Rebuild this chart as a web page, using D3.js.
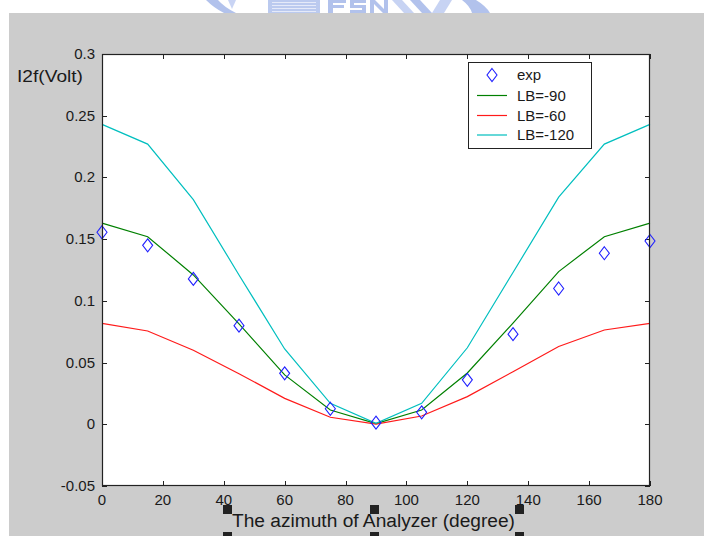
<!DOCTYPE html>
<html>
<head>
<meta charset="utf-8">
<script src="https://cdn.jsdelivr.net/npm/d3@7"></script>
<style>
  html, body { margin: 0; padding: 0; background: #ffffff; }
  svg { display: block; }
  text { font-family: "Liberation Sans", Arial, Helvetica, sans-serif; fill: #1a1a1a; }
</style>
</head>
<body>
<svg id="chart" width="704" height="536"></svg>
<script>
// ---- data ----
const angles = [0, 15, 30, 45, 60, 75, 90, 105, 120, 135, 150, 165, 180];
const expValues = [0.1556, 0.145, 0.1178, 0.0799, 0.0413, 0.0126, 0.0013, 0.0097, 0.036, 0.073, 0.110, 0.1386, 0.1485];
const lb90 = [0.163, 0.152, 0.121, 0.0813, 0.040, 0.0116, 0.0005, 0.0116, 0.0416, 0.082, 0.1237, 0.152, 0.163];
const lb60 = [0.0818, 0.0756, 0.060, 0.041, 0.021, 0.0057, 0.0002, 0.0067, 0.0224, 0.0426, 0.063, 0.0764, 0.0818];
const lb120 = [0.243, 0.227, 0.182, 0.121, 0.061, 0.017, 0.0007, 0.017, 0.062, 0.123, 0.184, 0.227, 0.243];
const xTicks = [0, 20, 40, 60, 80, 100, 120, 140, 160, 180];
const yTicks = [-0.05, 0, 0.05, 0.1, 0.15, 0.2, 0.25, 0.3];
const yTickLabels = ["-0.05", "0", "0.05", "0.1", "0.15", "0.2", "0.25", "0.3"];
const seriesNames = ["exp", "LB=-90", "LB=-60", "LB=-120"];
const seriesColors = ["#2020ff", "#008000", "#ff1a1a", "#00bfbf"];
const xLabel = "The azimuth of Analyzer (degree)";
const yLabel = "I2f(Volt)";

const svg = d3.select("#chart");

// ---- watermark (logo remnant at top) ----
const wm = svg.append("g").attr("opacity", 0.6);
wm.append("path").attr("d", "M206,0 Q214,8 224,13 L236,13 Q224,7 218,0 Z").attr("fill", "#7f9be0");
wm.append("path").attr("d", "M228,0 L236,0 L232,9 Z").attr("fill", "#a6b9ee");
wm.append("rect").attr("x", 268).attr("y", 0).attr("width", 52).attr("height", 13).attr("fill", "#8fa7e5");
[2, 5, 8, 11].forEach(yy => wm.append("rect").attr("x", 272).attr("y", yy).attr("width", 44).attr("height", 1).attr("fill", "#d4ddf6"));
wm.append("path").attr("d", "M328,0 L346,0 L346,3 L333,3 L333,5 L344,5 L344,8 L333,8 L333,13 L328,13 Z").attr("fill", "#7f9be0");
wm.append("path").attr("d", "M350,0 L366,0 L366,3 L354,3 L354,5 L366,5 L366,13 L350,13 L350,10 L362,10 L362,8 L350,8 Z").attr("fill", "#7f9be0");
wm.append("path").attr("d", "M370,0 L375,0 L384,9 L384,0 L388,0 L388,13 L383,13 L374,4 L374,13 L370,13 Z").attr("fill", "#7f9be0");
wm.append("path").attr("d", "M392,0 L402,0 L414,13 L404,13 Z").attr("fill", "#a2b6ec");
wm.append("path").attr("d", "M410,0 L420,0 L432,13 L422,13 Z").attr("fill", "#7f9be0");
wm.append("path").attr("d", "M440,0 L452,0 L444,13 L432,13 Z").attr("fill", "#a2b6ec");
wm.append("path").attr("d", "M462,0 L476,0 Q486,6 490,13 L472,13 Q470,6 462,0 Z").attr("fill", "#7f9be0");

// ---- figure background ----
svg.append("rect").attr("x", 9).attr("y", 13).attr("width", 704 - 9).attr("height", 536 - 13).attr("fill", "#cccccc");

// ---- axes geometry ----
const L = 102, R = 650, T = 54, B = 486;
const x = d3.scaleLinear().domain([0, 180]).range([L, R]);
const y = d3.scaleLinear().domain([-0.05, 0.3]).range([B, T]);

svg.append("rect").attr("x", L).attr("y", T).attr("width", R - L).attr("height", B - T).attr("fill", "#ffffff");

const tickLen = 5;
const axisColor = "#222222";
const tg = svg.append("g").attr("stroke", axisColor).attr("stroke-width", 1);
xTicks.forEach(t => {
  const xx = Math.round(x(t)) + 0.5;
  tg.append("line").attr("x1", xx).attr("x2", xx).attr("y1", B).attr("y2", B - tickLen);
  tg.append("line").attr("x1", xx).attr("x2", xx).attr("y1", T).attr("y2", T + tickLen);
});
yTicks.forEach(t => {
  const yy = Math.round(y(t)) + 0.5;
  tg.append("line").attr("x1", L).attr("x2", L + tickLen).attr("y1", yy).attr("y2", yy);
  tg.append("line").attr("x1", R).attr("x2", R - tickLen).attr("y1", yy).attr("y2", yy);
});

// tick labels
svg.append("g").selectAll("text").data(xTicks).join("text")
  .attr("x", d => x(d)).attr("y", 505)
  .attr("text-anchor", "middle").attr("font-size", 15).attr("fill", "#2a2a2a")
  .text(d => String(d));
svg.append("g").selectAll("text").data(yTicks).join("text")
  .attr("x", 95).attr("y", d => y(d) + 5)
  .attr("text-anchor", "end").attr("font-size", 15).attr("fill", "#2a2a2a")
  .text((d, i) => yTickLabels[i]);

// axis labels
svg.append("text").attr("x", 17).attr("y", 82).attr("font-size", 17)
  .attr("textLength", 66).attr("lengthAdjust", "spacingAndGlyphs").text(yLabel);
svg.append("text").attr("x", 232).attr("y", 527).attr("font-size", 18)
  .attr("textLength", 283).attr("lengthAdjust", "spacingAndGlyphs").text(xLabel);

// selection handles around x label
const handleX = [223, 370, 515];
const handleY = [505, 532];
handleX.forEach(hx => handleY.forEach(hy => {
  svg.append("rect").attr("x", hx).attr("y", hy).attr("width", 9).attr("height", 9).attr("fill", "#222222");
}));

// ---- plot lines ----
const plot = svg.append("g");
const line = d3.line().x((d, i) => x(angles[i])).y(d => y(d));
[[lb90, seriesColors[1]], [lb60, seriesColors[2]], [lb120, seriesColors[3]]].forEach(([vals, col]) => {
  plot.append("path").datum(vals).attr("d", line)
    .attr("fill", "none").attr("stroke", col).attr("stroke-width", 1.2);
});

// diamonds
const dw = 5, dh = 6.5;
const diamond = (cx, cy) => `M${cx},${cy - dh} L${cx + dw},${cy} L${cx},${cy + dh} L${cx - dw},${cy} Z`;
plot.selectAll("path.exp").data(expValues).join("path").attr("class", "exp")
  .attr("d", (d, i) => diamond(x(angles[i]), y(d)))
  .attr("fill", "none").attr("stroke", seriesColors[0]).attr("stroke-width", 1.1);

// axis box
svg.append("rect").attr("x", L + 0.5).attr("y", T + 0.5).attr("width", R - L - 1).attr("height", B - T - 1)
  .attr("fill", "none").attr("stroke", axisColor).attr("stroke-width", 1.2);

// ---- legend ----
const lg = svg.append("g");
const lx = 468, ly = 62, lw = 123, lh = 86;
lg.append("rect").attr("x", lx + 0.5).attr("y", ly + 0.5).attr("width", lw).attr("height", lh)
  .attr("fill", "#ffffff").attr("stroke", axisColor).attr("stroke-width", 1);
const rowY = [75, 95.5, 115.5, 135];
seriesNames.forEach((name, i) => {
  if (i === 0) {
    lg.append("path").attr("d", diamond(492, rowY[i])).attr("fill", "none")
      .attr("stroke", seriesColors[0]).attr("stroke-width", 1.1);
  } else {
    lg.append("line").attr("x1", 477).attr("x2", 507).attr("y1", rowY[i]).attr("y2", rowY[i])
      .attr("stroke", seriesColors[i]).attr("stroke-width", 1.2);
  }
  lg.append("text").attr("x", 517).attr("y", rowY[i] + 5).attr("font-size", 15).attr("fill", "#2a2a2a").text(name);
});
</script>
</body>
</html>
